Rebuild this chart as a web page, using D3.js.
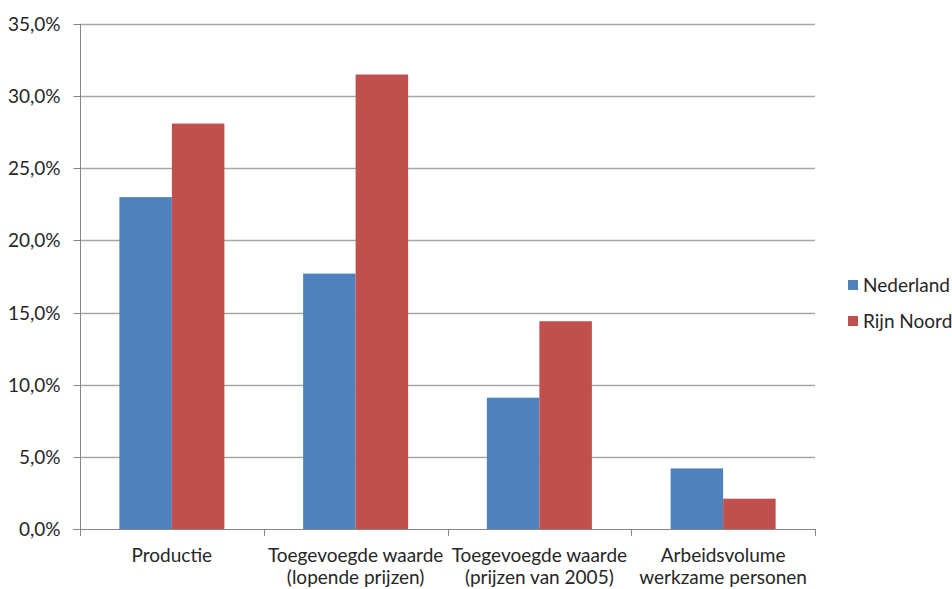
<!DOCTYPE html>
<html><head><meta charset="utf-8">
<script src="https://cdn.jsdelivr.net/npm/d3@7"></script>
<style>body{margin:0;background:#fff}svg{display:block}text{font-family:Lato,"Liberation Sans",sans-serif;fill:#262626}</style>
</head><body><svg id="c" width="952" height="589"></svg>
<script>
const categories = [["Productie"],["Toegevoegde waarde","(lopende prijzen)"],["Toegevoegde waarde","(prijzen van 2005)"],["Arbeidsvolume","werkzame personen"]];
const seriesNames = ["Nederland","Rijn Noord"];
const nederland = [23.0, 17.7, 9.1, 4.2];
const rijnNoord = [28.1, 31.5, 14.4, 2.1];
const colors = ["#4f81bd","#c0504d"];
const yTicks = [0,5,10,15,20,25,30,35];

const FS = "19px";
const svg = d3.select("#c");
const L = 80, R = 815, T = 24, B = 529;
const x = d3.scaleBand().domain(d3.range(categories.length)).range([L,R]);
const xs = d3.scaleBand().domain(d3.range(2)).range([0,x.bandwidth()]).paddingOuter(0.75).paddingInner(0);
const y = d3.scaleLinear().domain([0,35]).range([B,T]);

// gridlines
svg.append("g").selectAll("line").data(yTicks.filter(d=>d>0)).join("line")
  .attr("x1",L).attr("x2",R).attr("y1",d=>Math.round(y(d))+0.5).attr("y2",d=>Math.round(y(d))+0.5)
  .attr("stroke","#a6a6a6").attr("stroke-width",1.3);

// bars
const data = [nederland, rijnNoord];
data.forEach((vals,si)=>{
  svg.append("g").selectAll("rect").data(vals).join("rect")
    .attr("x",(d,i)=>x(i)+xs(si)).attr("width",xs.bandwidth())
    .attr("y",d=>y(d)).attr("height",d=>B-y(d)).attr("fill",colors[si]);
});

// y axis
const ya = svg.append("g").attr("transform",`translate(${L+0.5},0)`)
  .call(d3.axisLeft(y).tickValues(yTicks).tickSize(7).tickPadding(6).tickFormat(d=>d.toFixed(1).replace(".",",")+"%"));
ya.select(".domain").attr("stroke","#868686").attr("d",`M0,${T}V${B}`);
ya.selectAll(".tick line").attr("stroke","#868686");
ya.selectAll(".tick text").style("font-size",FS).style("font-family","Lato,sans-serif").attr("fill","#262626").attr("dx",-7);
ya.selectAll(".tick").attr("transform",d=>`translate(0,${Math.round(y(d))+0.5})`);

// x axis
const xa = svg.append("g");
xa.append("line").attr("x1",L-7).attr("x2",R).attr("y1",B+0.5).attr("y2",B+0.5).attr("stroke","#868686");
xa.selectAll("line.t").data(d3.range(categories.length+1)).join("line").attr("class","t")
  .attr("x1",i=>Math.round(L+i*x.step())+0.5).attr("x2",i=>Math.round(L+i*x.step())+0.5)
  .attr("y1",B).attr("y2",B+7).attr("stroke","#868686");
categories.forEach((lines,i)=>{
  const t = xa.append("text").attr("text-anchor","middle").style("font-size",FS)
    .attr("x",x(i)+x.bandwidth()/2).attr("y",562);
  lines.forEach((ln,j)=>t.append("tspan").attr("x",x(i)+x.bandwidth()/2).attr("dy",j?22:0).text(ln));
});

// legend
const lg = svg.append("g");
seriesNames.forEach((n,i)=>{
  const yy = 285 + i*36;
  lg.append("rect").attr("x",848).attr("y",yy-5).attr("width",10).attr("height",10).attr("fill",colors[i]);
  lg.append("text").attr("x",863).attr("y",yy).attr("dy","0.35em").style("font-size",FS).text(n);
});
</script></body></html>
